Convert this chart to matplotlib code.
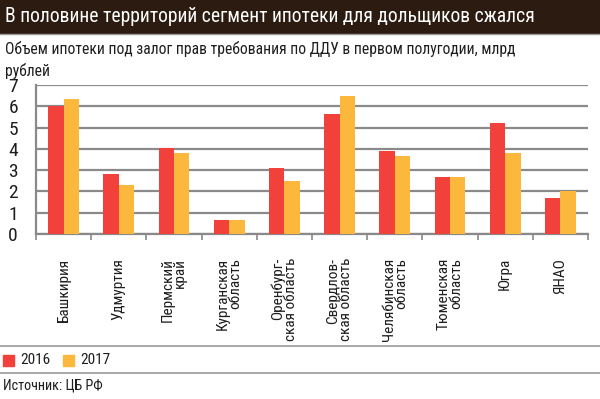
import numpy as np
import matplotlib
matplotlib.use("Agg")
import matplotlib.pyplot as plt
from matplotlib.patches import Rectangle
from matplotlib.lines import Line2D
from matplotlib import font_manager

names = {f.name for f in font_manager.fontManager.ttflist}
family = "DejaVu Sans"
for cand in ["Roboto Condensed", "Liberation Sans Narrow", "Open Sans Condensed", "Noto Sans Condensed"]:
    if cand in names:
        family = cand
        break
plt.rcParams['font.family'] = [family, 'DejaVu Sans']
plt.rcParams['font.stretch'] = 'condensed'

# data
regions = ["Башкирия", "Удмуртия", "Пермский\nкрай", "Курганская\nобласть",
           "Оренбург-\nская область", "Свердлов-\nская область", "Челябинская\nобласть",
           "Тюменская\nобласть", "Югра", "ЯНАО"]
v2016 = [6.03, 2.84, 4.06, 0.66, 3.09, 5.63, 3.91, 2.67, 5.22, 1.67]
v2017 = [6.36, 2.31, 3.81, 0.66, 2.50, 6.48, 3.66, 2.67, 3.81, 2.00]
yticks = [0, 1, 2, 3, 4, 5, 6, 7]

red = "#f2403a"
yellow = "#fcb83c"
gray = "#8a8a8a"
ink = "#1e1e1e"

fig = plt.figure(figsize=(6, 3.99), dpi=100)
W, H = 600, 399
renderer = fig.canvas.get_renderer()


def fit(t, target_px, horizontal=True):
    # scale a text so its length matches the reference
    bb = t.get_window_extent(renderer)
    cur = bb.width if horizontal else bb.height
    t.set_fontsize(t.get_fontsize() * target_px / cur)
    return t.get_fontsize()


# title bar
fig.patches.append(Rectangle((0, 1 - 33 / H), 1, 33 / H, transform=fig.transFigure,
                             color="#2b1b10", zorder=0))
fig.add_artist(Line2D([0, 1], [1 - 33.5 / H] * 2, color="#9a9a9a", linewidth=1.0))
title = fig.text(5 / W, 1 - 17 / H, "В половине территорий сегмент ипотеки для дольщиков сжался",
                 color="white", fontsize=15, va="center", ha="left")
fit(title, 535)
sub = fig.text(5 / W, 1 - 49 / H, "Объем ипотеки под залог прав требования по ДДУ в первом полугодии, млрд",
               fontsize=12.5, va="center", ha="left", color=ink)
sub_fs = fit(sub, 510)
fig.text(5 / W, 1 - 71 / H, "рублей", fontsize=sub_fs, va="center", ha="left", color=ink)

ax = fig.add_axes([36 / W, 1 - 234 / H, 552 / W, 149 / H])
x = np.arange(len(regions))
w = 0.28
ax.bar(x - w / 2, v2016, w, color=red, zorder=3)
ax.bar(x + w / 2, v2017, w, color=yellow, zorder=3)
ax.set_xlim(-0.5, len(regions) - 0.5)
ax.set_ylim(0, 7)
ax.set_yticks(yticks)
ax.set_yticklabels([str(t) for t in yticks], fontsize=14)
ax.tick_params(axis="y", length=0, pad=13, labelcolor=ink)
ax.yaxis.grid(True, color=gray, linewidth=1.6, zorder=0)
ax.set_xticks(np.arange(len(regions) + 1) - 0.5)
ax.set_xticklabels([])
ax.tick_params(axis="x", length=4, color=gray, width=1.2, direction="out")
for s in ["top", "right"]:
    ax.spines[s].set_visible(False)
for s in ["left", "bottom"]:
    ax.spines[s].set_color(gray)
    ax.spines[s].set_linewidth(1.6)

labels = []
for i, r in enumerate(regions):
    labels.append(ax.text(i, -24 / 21.3, r, rotation=90, ha="center", va="top", ma="right",
                          fontsize=12.5, color=ink, linespacing=0.85))
lab_fs = fit(labels[0], 64, horizontal=False)
for t in labels:
    t.set_fontsize(lab_fs)

# legend block
fig.add_artist(Line2D([0, 1], [1 - 346 / H] * 2, color="#9a9a9a", linewidth=1.2))
fig.add_artist(Line2D([0, 1], [1 - 373 / H] * 2, color="#9a9a9a", linewidth=1.2))
fig.patches.append(Rectangle((3 / W, 1 - 366 / H), 11 / W, 11 / H, transform=fig.transFigure, color=red))
l1 = fig.text(20 / W, 1 - 360 / H, "2016", fontsize=13, va="center", ha="left", color=ink)
leg_fs = fit(l1, 30)
fig.patches.append(Rectangle((63 / W, 1 - 366 / H), 11 / W, 11 / H, transform=fig.transFigure, color=yellow))
fig.text(80 / W, 1 - 360 / H, "2017", fontsize=leg_fs, va="center", ha="left", color=ink)
src = fig.text(3 / W, 1 - 386 / H, "Источник: ЦБ РФ", fontsize=11.5, va="center", ha="left", color=ink)
fit(src, 100)

fig.savefig("out.png", dpi=100)
